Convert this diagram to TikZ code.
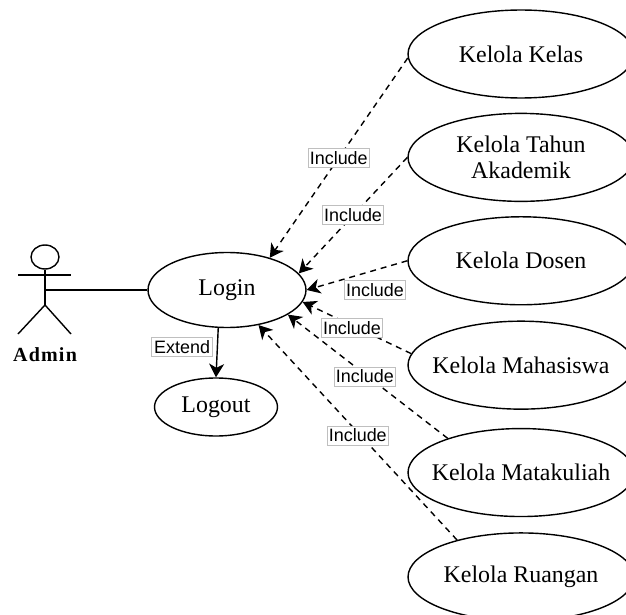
\documentclass[tikz,border=0pt]{standalone}
\usepackage{fontspec}
\setmainfont{Liberation Serif}
\setsansfont{Liberation Sans}
\newfontfamily\adminfont[LetterSpace=6]{Liberation Serif}
\usetikzlibrary{arrows.meta,positioning,shapes.geometric}

\begin{document}
\begin{tikzpicture}
%defines
  [x=0.02cm,y=-0.02cm,line width=0.8pt,
usecase/.style={ellipse,draw,inner xsep=-0.5cm,inner ysep=0pt,align=center,
font=\fontsize{13.6}{14.6}\selectfont,minimum width=4.52cm,minimum height=1.76cm},
tag/.style={rectangle,draw=black!25,fill=white,solid,inner sep=0pt,line width=0.5pt,
font=\sffamily\fontsize{10.2}{12}\selectfont,minimum width=1.22cm,minimum height=0.38cm},
incl/.style={dash pattern=on 3.4pt off 2.8pt,-{Stealth[length=0.27cm,width=0.3cm,inset=0.08cm]}},
ext/.style={-{Stealth[length=0.27cm,width=0.3cm,inset=0.08cm]}}]
\useasboundingbox (0,0) rectangle (626,615);
%use cases
\node[usecase] (kelas) at (521,54) {Kelola Kelas};
\node[usecase] (tahun) [below=0.28cm of kelas] {Kelola Tahun\\Akademik};
\node[usecase] (dosen) [below=0.28cm of tahun] {Kelola Dosen};
\node[usecase] (mahasiswa) [below=0.30cm of dosen] {Kelola Mahasiswa};
\node[usecase] (matakuliah) [below=0.36cm of mahasiswa] {Kelola Matakuliah};
\node[usecase] (ruangan) [below=0.30cm of matakuliah] {Kelola Ruangan};
\node[usecase,minimum width=3.16cm,minimum height=1.5cm] (login) at (227,290) {Login};
\node[usecase,minimum width=2.46cm,minimum height=1.16cm] (logout) at (216,407) {Logout};
%actor
\node[ellipse,draw,inner sep=0pt,minimum width=0.56cm,minimum height=0.48cm] (head) at (45,257) {};
\coordinate (armL) at (18,275);
\coordinate (armR) at (71,275);
\coordinate (hip) at (45,305);
\coordinate (footL) at (18,334);
\coordinate (footR) at (71,334);
\coordinate (waist) at (45,290);
\draw (head.south) -- (hip);
\draw (armL) -- (armR);
\draw (footL) -- (hip) -- (footR);
\node (admin) at (45,355) {\adminfont\bfseries\fontsize{11.4}{13}\selectfont Admin};
%connectors
\draw (waist) -- (login.west);
\path (login.-103) edge [ext] node[tag,xshift=-0.7cm,yshift=0.12cm] {Extend} (logout.north);
\path (kelas.182) edge [incl] node[tag] {Include} (login.37);
\path (tahun.180) edge [incl] node[tag] {Include} (login.13);
\path (dosen.180) edge [incl] node[tag,xshift=0.36cm,yshift=-0.3cm] {Include} (login.0);
\path (mahasiswa.174) edge [incl] node[tag,xshift=-0.1cm] {Include} (login.-9);
\path (matakuliah.155) edge [incl] node[tag,xshift=-0.06cm] {Include} (login.-22);
\path (ruangan.150) edge [incl] node[tag,yshift=-0.06cm] {Include} (login.-48);
\end{tikzpicture}
\end{document}
